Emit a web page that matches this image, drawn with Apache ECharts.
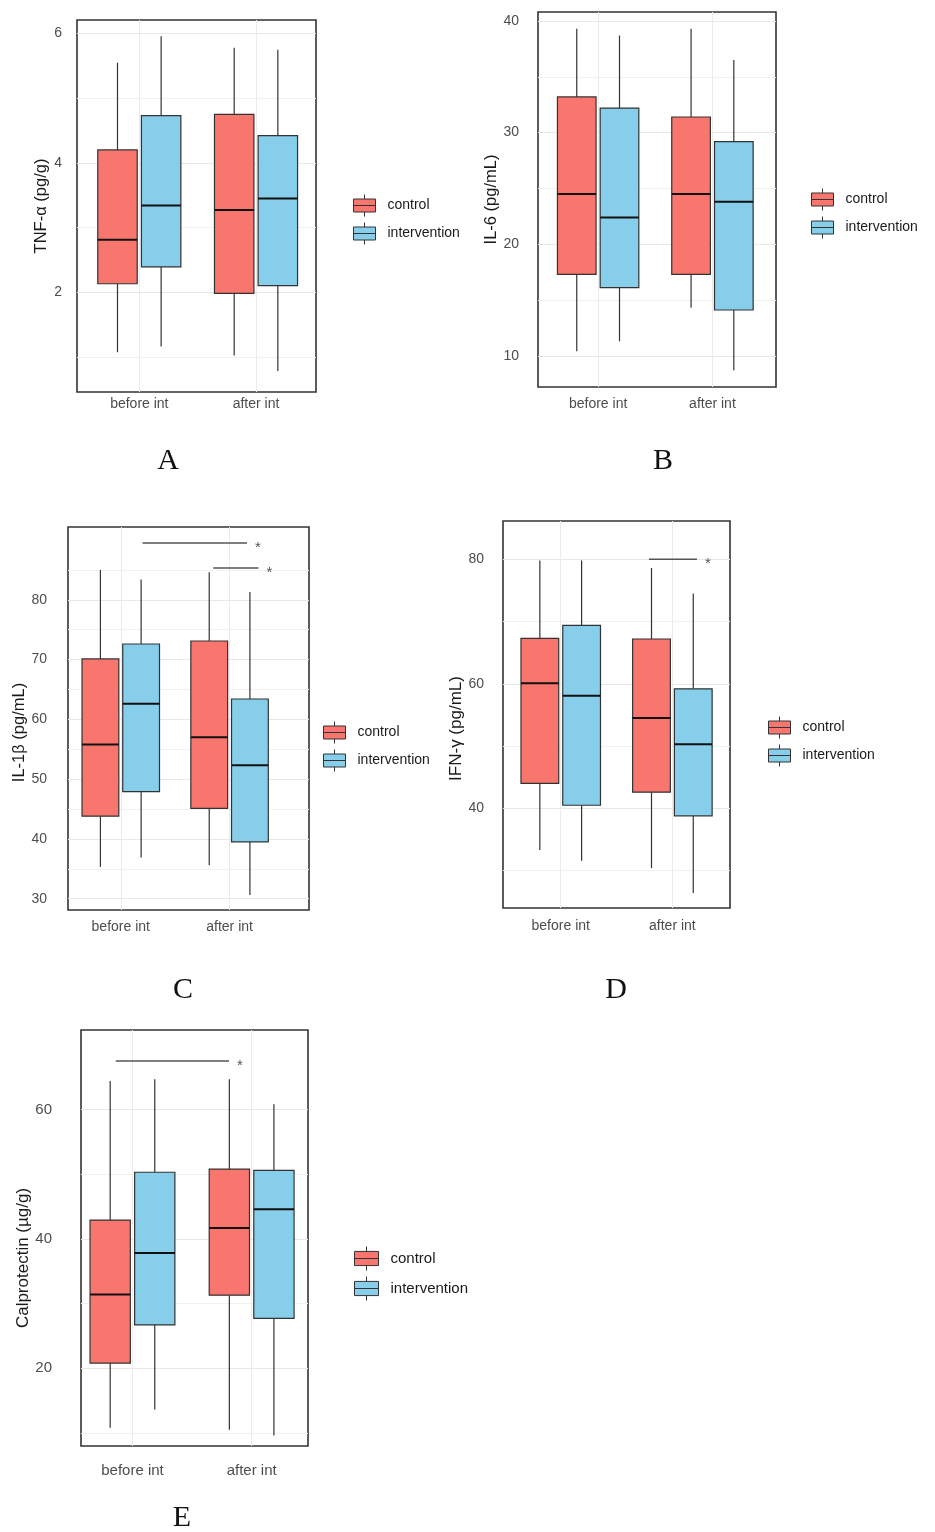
<!DOCTYPE html>
<html>
<head>
<meta charset="utf-8">
<script src="https://cdn.jsdelivr.net/npm/echarts@6/dist/echarts.min.js"></script>
<style>
  html, body { margin: 0; padding: 0; background: #fff; }
  #chart { width: 935px; height: 1532px; }
</style>
</head>
<body>
<div id="chart"></div>
<script>
const groups = ['before int', 'after int'];
const seriesNames = ['control', 'intervention'];
const fills = ['#F8766D', '#87CEEB'];

// each row: [min, q1, median, q3, max] for before int / after int
const tnfControl = [[1.07, 2.13, 2.81, 4.20, 5.55], [1.02, 1.98, 3.27, 4.75, 5.78]];
const tnfIntervention = [[1.16, 2.39, 3.34, 4.73, 5.96], [0.78, 2.10, 3.45, 4.42, 5.75]];
const il6Control = [[10.4, 17.3, 24.5, 33.2, 39.3], [14.3, 17.3, 24.5, 31.4, 39.3]];
const il6Intervention = [[11.3, 16.1, 22.4, 32.2, 38.7], [8.7, 14.1, 23.8, 29.2, 36.5]];
const il1bControl = [[35.3, 43.8, 55.8, 70.1, 85.0], [35.6, 45.1, 57.0, 73.1, 84.6]];
const il1bIntervention = [[36.9, 47.9, 62.6, 72.6, 83.4], [30.6, 39.5, 52.3, 63.4, 81.3]];
const ifnControl = [[33.3, 44.0, 60.1, 67.3, 79.8], [30.4, 42.6, 54.5, 67.2, 78.6]];
const ifnIntervention = [[31.6, 40.5, 58.1, 69.4, 79.8], [26.4, 38.8, 50.3, 59.2, 74.5]];
const calControl = [[10.8, 20.8, 31.4, 42.9, 64.4], [10.5, 31.3, 41.7, 50.8, 64.7]];
const calIntervention = [[13.6, 26.7, 37.8, 50.3, 64.7], [9.6, 27.7, 44.6, 50.6, 60.8]];

// y tick labels (major) and minor grid values
const tnfTicks = [2, 4, 6], tnfMinor = [1, 3, 5];
const il6Ticks = [10, 20, 30, 40], il6Minor = [15, 25, 35];
const il1bTicks = [30, 40, 50, 60, 70, 80], il1bMinor = [35, 45, 55, 65, 75, 85];
const ifnTicks = [40, 60, 80], ifnMinor = [30, 50, 70];
const calTicks = [20, 40, 60], calMinor = [10, 30, 50];

// significance bars: [from x, to x, y]  (x in group units, 0 = before int, 1 = after int)
const il1bSig = [[0.20, 1.16, 89.5], [0.85, 1.265, 85.3]];
const ifnSig = [[0.79, 1.22, 80.0]];
const calSig = [[-0.14, 0.81, 67.5]];

const BOX_W = 0.338;
const DODGE = 0.187;

const panels = [
  { letter: 'A', title: 'TNF-α (pg/g)', data: [tnfControl, tnfIntervention], major: tnfTicks, minor: tnfMinor, sig: [],
    grid: [77, 20, 239, 372], y: [0.455, 6.21], x: [-0.534, 1.514],
    yMargin: 15, xMargin: 5, nameGap: 26, nameShift: 0, tick: 14, titleSize: 16.5, leg: [353, 194], legSize: 14, legItem: 22,
    label: [168, 461] },
  { letter: 'B', title: 'IL-6 (pg/mL)', data: [il6Control, il6Intervention], major: il6Ticks, minor: il6Minor, sig: [],
    grid: [538, 12, 238, 375], y: [7.2, 40.81], x: [-0.526, 1.556],
    yMargin: 19, xMargin: 10, nameGap: 32, nameShift: 0, tick: 14, titleSize: 16.5, leg: [811, 188], legSize: 14, legItem: 22,
    label: [663, 461] },
  { letter: 'C', title: 'IL-1β (pg/mL)', data: [il1bControl, il1bIntervention], major: il1bTicks, minor: il1bMinor, sig: il1bSig,
    grid: [68, 527, 241, 383], y: [28.1, 92.17], x: [-0.485, 1.73],
    yMargin: 21, xMargin: 10, nameGap: 34, nameShift: 14, tick: 14, titleSize: 16.5, leg: [323, 721], legSize: 14, legItem: 22,
    label: [183, 990] },
  { letter: 'D', title: 'IFN-γ (pg/mL)', data: [ifnControl, ifnIntervention], major: ifnTicks, minor: ifnMinor, sig: ifnSig,
    grid: [503, 521, 227, 387], y: [24.0, 86.15], x: [-0.517, 1.516],
    yMargin: 19, xMargin: 11, nameGap: 33, nameShift: 14, tick: 14, titleSize: 17, leg: [768, 716], legSize: 14, legItem: 22,
    label: [616, 990] },
  { letter: 'E', title: 'Calprotectin (µg/g)', data: [calControl, calIntervention], major: calTicks, minor: calMinor, sig: calSig,
    grid: [81, 1030, 227, 416], y: [7.97, 72.3], x: [-0.432, 1.473],
    yMargin: 29, xMargin: 17, nameGap: 46, nameShift: 20, tick: 15, titleSize: 17, leg: [354, 1246], legSize: 15, legItem: 24,
    label: [182, 1518] }
];

const FONT = '"Liberation Sans", Arial, sans-serif';

function boxRenderer(offset) {
  return function (params, api) {
    const x = api.value(0) + offset;
    const pMin = api.coord([x, api.value(1)]);
    const pQ1 = api.coord([x, api.value(2)]);
    const pMed = api.coord([x, api.value(3)]);
    const pQ3 = api.coord([x, api.value(4)]);
    const pMax = api.coord([x, api.value(5)]);
    const w = api.size([BOX_W, 0])[0];
    const cx = pMed[0];
    const edge = { stroke: '#333', lineWidth: 1.2 };
    return {
      type: 'group',
      children: [
        { type: 'line', shape: { x1: cx, y1: pMax[1], x2: cx, y2: pQ3[1] }, style: edge },
        { type: 'line', shape: { x1: cx, y1: pQ1[1], x2: cx, y2: pMin[1] }, style: edge },
        { type: 'rect', shape: { x: cx - w / 2, y: pQ3[1], width: w, height: pQ1[1] - pQ3[1] },
          style: { fill: api.visual('color'), stroke: '#333', lineWidth: 1.2 } },
        { type: 'line', shape: { x1: cx - w / 2, y1: pMed[1], x2: cx + w / 2, y2: pMed[1] },
          style: { stroke: '#111', lineWidth: 2 } }
      ]
    };
  };
}

function sigRenderer(params, api) {
  const a = api.coord([api.value(0), api.value(2)]);
  const b = api.coord([api.value(1), api.value(2)]);
  return {
    type: 'group',
    children: [
      { type: 'line', shape: { x1: a[0], y1: a[1], x2: b[0], y2: b[1] }, style: { stroke: '#555', lineWidth: 1.5 } },
      { type: 'text', x: b[0] + 11, y: b[1] + 5,
        style: { text: '*', fontSize: 15, fontFamily: FONT, fill: '#555', align: 'center', verticalAlign: 'middle' } }
    ]
  };
}

const legendIcon = 'path://M0,4.5H22V17.5H0Z M0,11H22 M11,0V4.5 M11,17.5V22';

const series = [];
panels.forEach((p, i) => {
  p.data.forEach((rows, s) => {
    series.push({
      type: 'custom',
      name: seriesNames[s],
      xAxisIndex: i,
      yAxisIndex: i,
      itemStyle: { color: fills[s], borderColor: '#333', borderWidth: 1 },
      encode: { x: 0, y: [1, 2, 3, 4, 5] },
      renderItem: boxRenderer(s === 0 ? -DODGE : DODGE),
      data: rows.map((r, g) => [g].concat(r)),
      silent: true
    });
  });
  if (p.sig.length) {
    series.push({
      type: 'custom',
      xAxisIndex: i,
      yAxisIndex: i,
      encode: { x: [0, 1], y: 2 },
      renderItem: sigRenderer,
      data: p.sig,
      silent: true
    });
  }
});

const option = {
  animation: false,
  textStyle: { fontFamily: FONT },
  grid: panels.map(p => ({
    left: p.grid[0], top: p.grid[1], width: p.grid[2], height: p.grid[3],
    show: true, borderColor: '#333', borderWidth: 1.6, backgroundColor: 'transparent'
  })),
  xAxis: panels.map((p, i) => ({
    type: 'value', gridIndex: i, min: p.x[0], max: p.x[1],
    axisLine: { show: false },
    axisTick: { show: false, customValues: [0, 1] },
    axisLabel: {
      customValues: [0, 1], margin: p.xMargin, fontSize: p.tick, color: '#4d4d4d', fontFamily: FONT,
      formatter: v => groups[Math.round(v)]
    },
    splitLine: { show: true, lineStyle: { color: '#ebebeb', width: 1 } }
  })),
  yAxis: panels.map((p, i) => {
    const vals = p.major.concat(p.minor).sort((a, b) => a - b);
    return {
      type: 'value', gridIndex: i, min: p.y[0], max: p.y[1],
      name: p.title, nameLocation: 'middle', nameGap: p.nameGap,
      nameTextStyle: { fontSize: p.titleSize, color: '#1a1a1a', fontFamily: FONT, padding: [0, p.nameShift * 2, 0, 0] },
      axisLine: { show: false },
      axisTick: { show: false, customValues: vals },
      axisLabel: { customValues: p.major, margin: p.yMargin, fontSize: p.tick, color: '#4d4d4d', fontFamily: FONT },
      splitLine: { show: true, lineStyle: { width: 1, color: vals.map(v => p.major.includes(v) ? '#e8e8e8' : '#f1f1f1') } }
    };
  }),
  legend: panels.map(p => ({
    data: seriesNames,
    orient: 'vertical',
    left: p.leg[0], top: p.leg[1],
    padding: 0,
    itemWidth: p.legItem, itemHeight: p.legItem, itemGap: 5,
    icon: legendIcon,
    selectedMode: false,
    itemStyle: { borderColor: '#333', borderWidth: 1 },
    textStyle: { fontSize: p.legSize, color: '#1a1a1a', fontFamily: FONT, padding: [0, 0, 0, 7] }
  })),
  graphic: panels.map(p => ({
    type: 'text', x: p.label[0], y: p.label[1],
    style: { text: p.letter, fontSize: 30, fontFamily: '"Liberation Serif", "Times New Roman", serif', fill: '#111',
      align: 'center', verticalAlign: 'middle', textAlign: 'center', textVerticalAlign: 'middle' }
  })),
  series: series
};

const chart = echarts.init(document.getElementById('chart'), null, { renderer: 'canvas' });
chart.setOption(option);
</script>
</body>
</html>
